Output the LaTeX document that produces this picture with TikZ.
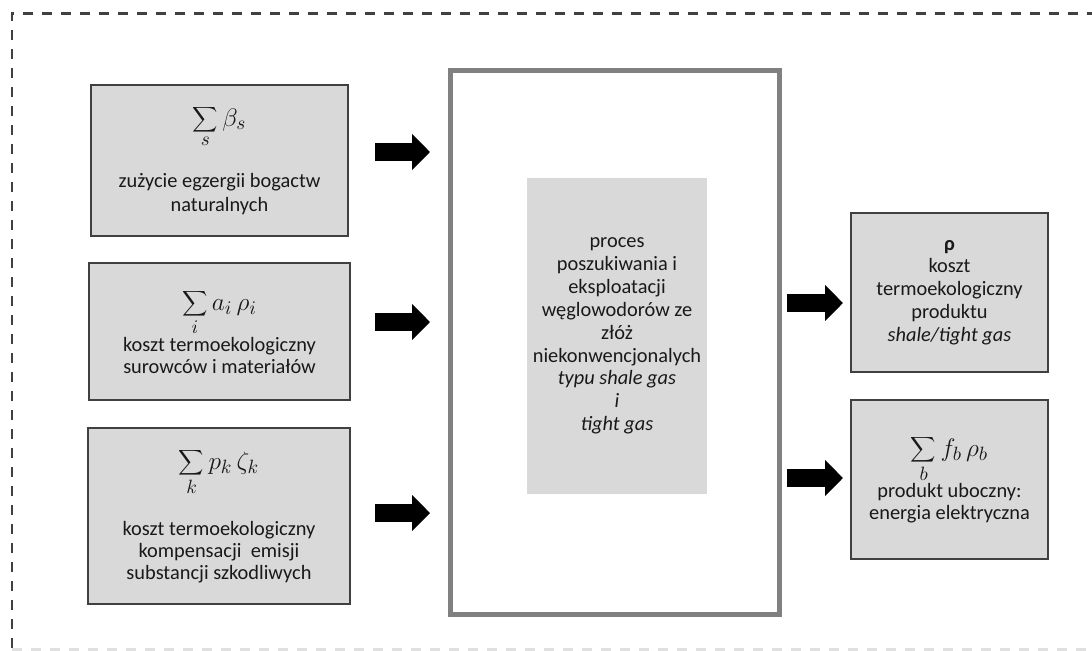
\documentclass[tikz,border=0pt]{standalone}
\usepackage{fontspec}
\setmainfont{Carlito}
\usetikzlibrary{arrows.meta}
\def\wzor#1{{\fontsize{15}{15}\selectfont$\displaystyle #1$}}

\begin{document}
\begin{tikzpicture}[x=0.02cm, y=-0.02cm,
		skrzynka/.style={draw=black!75, line width=0.04cm, fill=black!15, text=black!90, align=center, inner sep=0pt, outer sep=0pt, font=\fontsize{11.6}{12.6}\selectfont},
		strzalka/.style={line width=0.36cm, -{Triangle[length=0.36cm, width=0.7cm]}}]
			%%%%% START %%%%%
			
			\useasboundingbox (0, 0) rectangle (1092, 650);
			
			\draw[line width=0.06cm, color=black!75, dash pattern=on 0.2cm off 0.18cm] (12, 648) -- (12, 13) -- (1100, 13);
			\draw[line width=0.06cm, color=black!12, dash pattern=on 0.2cm off 0.18cm] (12, 649) -- (1100, 649);
			
			\node[skrzynka, minimum width=5.14cm, minimum height=3.02cm, font=\fontsize{11.6}{14}\selectfont] (beta) at (219.5, 160.5) {\wzor{\sum_s \beta_s}\\[14pt] zużycie egzergii bogactw\\ naturalnych};
			\node[skrzynka, minimum width=5.22cm, minimum height=2.74cm] (surowce) at (219.5, 331.5) {\wzor{\sum_i a_i\,\rho_i}\\ koszt termoekologiczny\\ surowców i materiałów};
			\node[skrzynka, minimum width=5.24cm, minimum height=3.52cm] (emisje) at (219, 516) {\wzor{\sum_k p_k\,\zeta_k}\\[14pt] koszt termoekologiczny\\ kompensacji~ emisji\\ substancji szkodliwych};
			
			\node[draw=black!50, line width=0.1cm, minimum width=6.6cm, minimum height=10.9cm, outer sep=0pt] (proces) at (615, 342.5) {};
			\node[fill=black!15, text=black!90, align=center, minimum width=3.6cm, minimum height=6.32cm, font=\fontsize{11.6}{13}\selectfont] (opis) at (617, 336) {proces\\ poszukiwania i\\ eksploatacji\\ węglowodorów ze\\ złóż\\ niekonwencjonalych\\ \textit{typu shale gas}\\ \textit{i}\\ \textit{tight gas}};
			
			\node[skrzynka, minimum width=3.94cm, minimum height=3.18cm, font=\fontsize{11.6}{13}\selectfont] (produkt) at (949.5, 292.5) {\textbf{ρ}\\ koszt\\ termoekologiczny\\ produktu\\ \textit{shale/tight gas}};
			\node[skrzynka, minimum width=3.94cm, minimum height=3.18cm] (uboczny) at (949.5, 479.5) {\wzor{\sum_b f_b\,\rho_b}\\ produkt uboczny:\\ energia elektryczna};
			
			\coordinate (we1) at (375, 152);
			\coordinate (we2) at (375, 322);
			\coordinate (we3) at (375, 513);
			\coordinate (wy1) at (787, 303);
			\coordinate (wy2) at (787, 478);
			
			\foreach \w in {we1, we2, we3}
				\draw[strzalka, shorten >=0.4cm] (\w) -- (\w -| proces.west);
			\draw[strzalka, shorten >=0.16cm] (wy1) -- (wy1 -| produkt.west);
			\draw[strzalka, shorten >=0.16cm] (wy2) -- (wy2 -| uboczny.west);
			
			%%%%% END %%%%%
		\end{tikzpicture}
\end{document}
